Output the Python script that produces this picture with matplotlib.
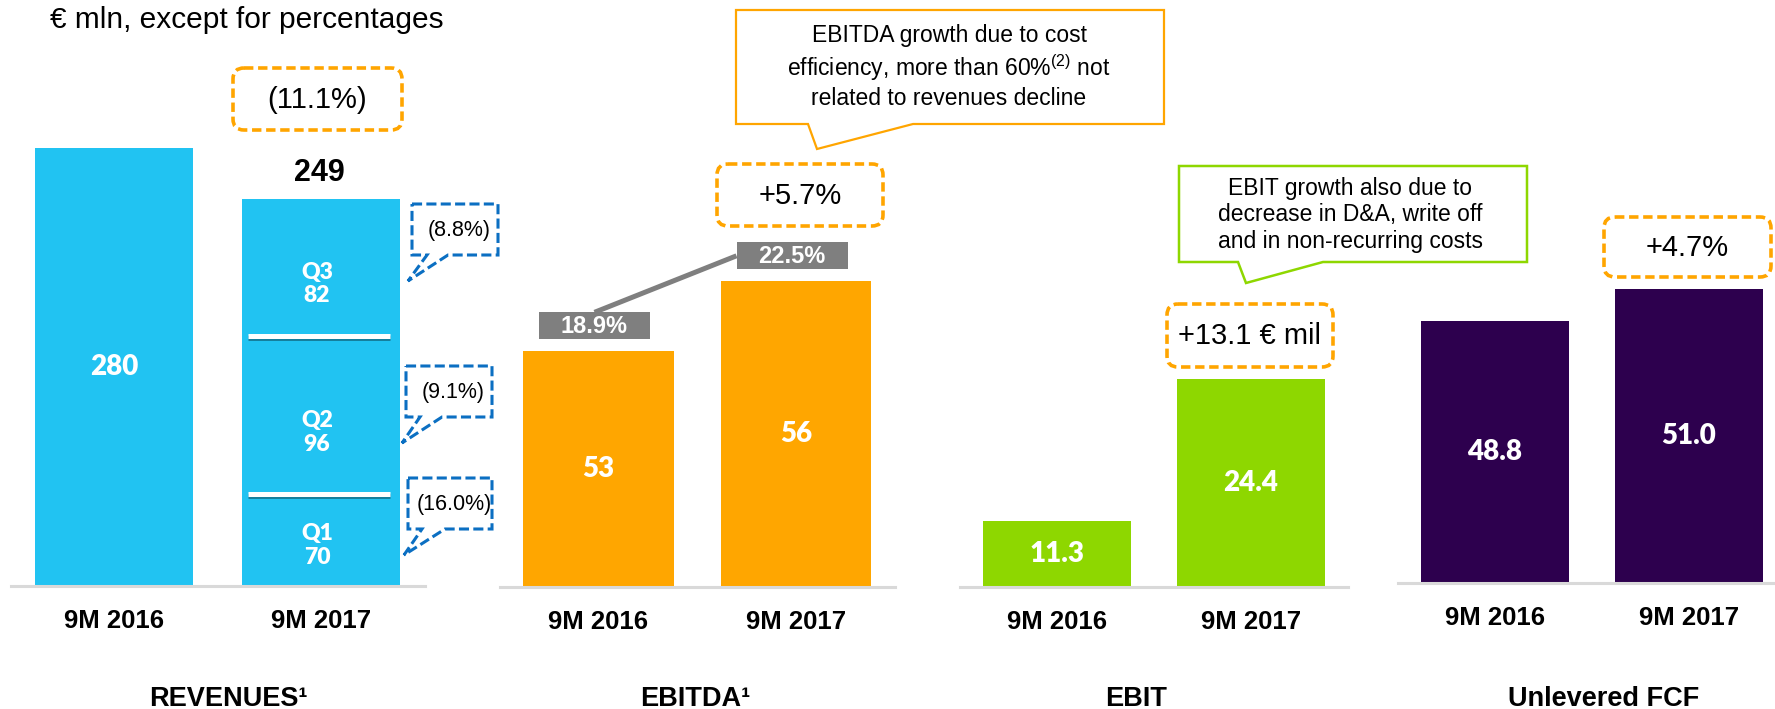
import matplotlib
matplotlib.use("Agg")
import matplotlib.pyplot as plt
import matplotlib.patches as mpatches
import matplotlib.transforms as mtransforms
import matplotlib.patheffects as pe

plt.rcParams.update({
    "font.family": ["Liberation Sans", "DejaVu Sans"],
    "mathtext.fontset": "custom",
    "mathtext.rm": "Liberation Sans",
    "mathtext.it": "Liberation Sans:italic",
    "mathtext.bf": "Liberation Sans:bold",
})

# ── Data ──────────────────────────────────────────────────────────────────────
periods = ["9M 2016", "9M 2017"]
revenues = [280, 249]
rev_quarters = [70, 96, 82]
rev_q_labels = ["Q1", "Q2", "Q3"]
rev_q_change = ["(16.0%)", "(9.1%)", "(8.8%)"]
ebitda = [53, 56]
ebitda_margin = [18.9, 22.5]
ebit = [11.3, 24.4]
fcf = [48.8, 51.0]
growth = ["(11.1%)", "+5.7%", "+13.1 € mil", "+4.7%"]
titles = ["REVENUES¹", "EBITDA¹", "EBIT", "Unlevered FCF"]
ebitda_note = "EBITDA growth due to cost\nefficiency, more than 60$\\%^{\\mathrm{(2)}}$ not\nrelated to revenues decline"
ebit_note = "EBIT growth also due to\ndecrease in D&A, write off\nand in non-recurring costs"

C_REV, C_EBITDA, C_EBIT, C_FCF = "#21C3F2", "#FFA600", "#8ED700", "#2D004E"
ORANGE, BLUE, GREY, BASE = "#FFA500", "#0B6FC2", "#7F7F7F", "#D9D9D9"
VAL_FONT = ["Lato", "DejaVu Sans"]

W, H = 1775, 709
fig = plt.figure(figsize=(W / 100, H / 100), dpi=100)
PX = mtransforms.Affine2D().scale(1, -1).translate(0, H)   # pixel coords, y down


def panel(cx0, step, yb, ylim, ytop=100):
    ax = fig.add_axes([(cx0 - 0.5 * step) / W, 1 - yb / H, 2 * step / W, (yb - ytop) / H])
    ax.set_xlim(-0.5, 1.5)
    ax.set_ylim(*ylim)
    for s in ["top", "right", "left"]:
        ax.spines[s].set_visible(False)
    ax.spines["bottom"].set_color(BASE)
    ax.spines["bottom"].set_linewidth(2.2)
    ax.set_yticks([])
    ax.set_xticks([])
    tr = mtransforms.blended_transform_factory(ax.transData, PX)
    for i, p in enumerate(periods):
        ax.text(i, yb + 42, p, transform=tr, ha="center", va="baseline",
                fontsize=18.5, fontweight="bold")
    return ax


def px_of(ax, x, y):
    dx, dy = ax.transData.transform((x, y))
    return dx, H - dy


def bar_labels(ax, vals, fmt):
    lo = ax.get_ylim()[0]
    for i, v in enumerate(vals):
        ax.text(i, (lo + v) / 2, fmt.format(v), ha="center", va="center", color="white",
                fontsize=20, fontweight="heavy", family=VAL_FONT)


def growth_box(x0, y0, x1, y1, text):
    fig.add_artist(mpatches.FancyBboxPatch(
        (x0, y0), x1 - x0, y1 - y0, boxstyle="round,pad=0,rounding_size=11",
        transform=PX, fc="white", ec=ORANGE, lw=2.6, ls=(0, (2.6, 1.3))))
    fig.text((x0 + x1) / 2, (y0 + y1) / 2 + 1, text, transform=PX,
             ha="center", va="center", fontsize=21)


def callout(x0, y0, x1, y1, base, tip, ec, lw, ls="-"):
    pts = [(x0, y0), (x1, y0), (x1, y1), (base[1], y1), tip, (base[0], y1), (x0, y1)]
    fig.add_artist(mpatches.Polygon(pts, closed=True, transform=PX, fc="white",
                                    ec=ec, lw=lw, ls=ls, joinstyle="miter"))


# ── Header ────────────────────────────────────────────────────────────────────
fig.text(50, 28, "€ mln, except for percentages", transform=PX, fontsize=21.5, va="baseline")

# ── Revenues ──────────────────────────────────────────────────────────────────
ax_r = panel(114, 207, 586, (13.8, 309.2))
ax_r.bar([0, 1], revenues, width=0.763, color=C_REV)
ax_r.text(0, (13.8 + revenues[0]) / 2, f"{revenues[0]:.0f}", ha="center", va="center",
          color="white", fontsize=20, fontweight="heavy", family=VAL_FONT)
ax_r.annotate(f"{revenues[1]:.0f}", (1, revenues[1]), xytext=(-2, 26),
              textcoords="offset pixels", ha="center", va="center",
              fontsize=22, fontweight="bold")

cum, lo = 0, ax_r.get_ylim()[0]
q_shift = [-6, -18, -16]
for k, (q, lab) in enumerate(zip(rev_quarters, rev_q_labels)):
    bottom, cum = cum, cum + q
    mid = (max(bottom, lo) + min(cum, revenues[1])) / 2
    ax_r.annotate(f"{lab}\n{q}", (1, mid), xytext=(-4, q_shift[k]), textcoords="offset pixels",
                  ha="center", va="center", color="white", fontsize=16.5,
                  fontweight="heavy", family=VAL_FONT, linespacing=1.15)
    if k < len(rev_quarters) - 1:
        ax_r.hlines(cum, 1 - 0.763 / 2 + 0.03, 1 + 0.763 / 2 - 0.05, color="white", lw=3.6,
                    path_effects=[pe.SimpleLineShadow(offset=(0, -2), alpha=0.35),
                                  pe.Normal()])

# quarter change call-outs (Q1, Q2, Q3)
q_boxes = [((408, 478, 492, 529), (422, 445), (404, 555)),
           ((406, 366, 492, 417), (420, 442), (402, 443)),
           ((412, 204, 498, 255), (427, 448), (408, 281))]
for (x0, y0, x1, y1), base, tip in q_boxes:
    callout(x0, y0, x1, y1, base, tip, BLUE, 2.2, (0, (3.3, 1.4)))
for txt, ((x0, y0, x1, y1), _, _) in zip(rev_q_change, q_boxes):
    fig.text((x0 + x1) / 2 + 4, (y0 + y1) / 2 + 1, txt, transform=PX,
             ha="center", va="center", fontsize=15.5)

growth_box(233, 68, 402, 130, growth[0])

# ── EBITDA ────────────────────────────────────────────────────────────────────
ax_e = panel(598.5, 197.5, 587, (42.9, 63.77))
ax_e.bar([0, 1], ebitda, width=0.76, color=C_EBITDA)
bar_labels(ax_e, ebitda, "{:.0f}")

boxes = []
for i, m in enumerate(ebitda_margin):
    cx, top = px_of(ax_e, i, ebitda[i])
    bx0, by1 = cx - 4 - 55.5, top - 12
    boxes.append((bx0, by1 - 27, bx0 + 111, by1))
(a0, a1, a2, a3), (b0, b1, b2, b3) = boxes
fig.add_artist(plt.Line2D([(a0 + a2) / 2, b0], [a1, (b1 + b3) / 2], transform=PX,
                          color=GREY, lw=3.6, solid_capstyle="butt"))
for (x0, y0, x1, y1), m in zip(boxes, ebitda_margin):
    fig.add_artist(mpatches.Rectangle((x0, y0), x1 - x0, y1 - y0, transform=PX,
                                      fc=GREY, ec="none"))
    fig.text((x0 + x1) / 2, (y0 + y1) / 2 + 1, f"{m:.1f}%", transform=PX, ha="center",
             va="center", color="white", fontsize=17, fontweight="bold")

growth_box(717, 164, 883, 226, growth[1])
callout(736, 10, 1164, 124, (808, 913), (817, 149), ORANGE, 1.6)
fig.text(949, 67, ebitda_note, transform=PX, ha="center", va="center",
         fontsize=16.5, linespacing=1.2)

# ── EBIT ──────────────────────────────────────────────────────────────────────
ax_b = panel(1057, 194, 587, (5.2, 50.13))
ax_b.bar([0, 1], ebit, width=0.763, color=C_EBIT)
bar_labels(ax_b, ebit, "{:.1f}")
growth_box(1167, 304, 1333, 367, growth[2])
callout(1179, 166, 1527, 262, (1238, 1323), (1246, 283), C_EBIT, 1.8)
fig.text(1350, 215, ebit_note, transform=PX, ha="center", va="center",
         fontsize=16.5, linespacing=1.2)

# ── Unlevered FCF ─────────────────────────────────────────────────────────────
ax_f = panel(1495, 194, 583, (30.8, 64.0))
ax_f.bar([0, 1], fcf, width=0.763, color=C_FCF)
bar_labels(ax_f, fcf, "{:.1f}")
growth_box(1604, 217, 1771, 277, growth[3])

# ── Group titles ──────────────────────────────────────────────────────────────
for x, t in zip([228, 695, 1136, 1604], titles):
    fig.text(x, 706, t, transform=PX, ha="center", va="baseline",
             fontsize=19.5, fontweight="bold")

fig.savefig("out.png", dpi=100)
